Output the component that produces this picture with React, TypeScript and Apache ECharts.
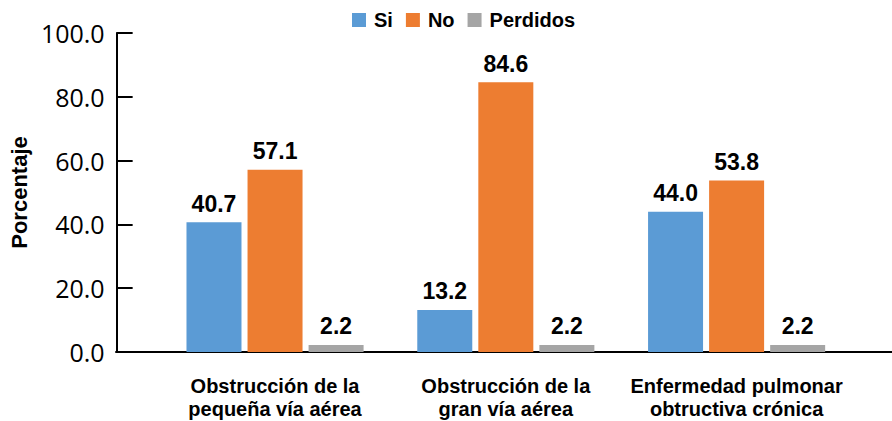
import React, { useEffect, useRef } from "react";
import * as echarts from "echarts";

// Categories (two-line axis labels)
const categories = [
  "Obstrucción de la\npequeña vía aérea",
  "Obstrucción de la\ngran vía aérea",
  "Enfermedad pulmonar\nobtructiva crónica",
];

// Percentages per answer
const siValues = [40.7, 13.2, 44.0];
const noValues = [57.1, 84.6, 53.8];
const perdidosValues = [2.2, 2.2, 2.2];

const seriesNames = ["Si", "No", "Perdidos"];
const seriesColors = ["#5B9BD5", "#ED7D31", "#A5A5A5"];

const yTicks = { min: 0, max: 100, interval: 20 };

const BOLD_FONT = "'Liberation Sans', Arial, sans-serif";
const TICK_FONT = "'Open Sans', 'Noto Sans', sans-serif";

export default function App() {
  const ref = useRef<HTMLDivElement>(null);

  useEffect(() => {
    if (!ref.current) return;
    const chart = echarts.init(ref.current, undefined, { renderer: "svg" });

    const values = [siValues, noValues, perdidosValues];

    const barSeries = values.map((data, i) => ({
      name: seriesNames[i],
      type: "bar" as const,
      xAxisIndex: 0,
      yAxisIndex: 0,
      data,
      barWidth: 55,
      barGap: "11%",
      itemStyle: { color: seriesColors[i] },
      label: {
        show: true,
        position: "top" as const,
        distance: 7,
        color: "#000",
        fontFamily: BOLD_FONT,
        fontWeight: "bold" as const,
        fontSize: 23,
        formatter: (p: any) => Number(p.value).toFixed(1),
      },
    }));

    chart.setOption({
      animation: false,
      backgroundColor: "#fff",
      legend: {
        data: seriesNames,
        left: 347,
        top: 5,
        icon: "rect",
        itemWidth: 14,
        itemHeight: 14,
        itemGap: 13,
        textStyle: {
          color: "#000",
          fontFamily: BOLD_FONT,
          fontWeight: "bold",
          fontSize: 20,
          padding: [0, 0, 0, 3],
        },
      },
      grid: [
        { left: 159, width: 693, top: 33, bottom: 69, containLabel: false },
        { left: 116, right: 0, top: 33, bottom: 69, containLabel: false },
      ],
      xAxis: [
        {
          type: "category",
          gridIndex: 0,
          data: categories,
          axisLine: { show: false },
          axisTick: { show: false },
          axisLabel: {
            interval: 0,
            margin: 22,
            color: "#000",
            fontFamily: BOLD_FONT,
            fontWeight: "bold",
            fontSize: 20,
            lineHeight: 23,
          },
        },
        {
          // baseline running the full width of the plot
          type: "value",
          gridIndex: 1,
          min: 0,
          max: 1,
          axisLine: { show: true, lineStyle: { color: "#000", width: 2 } },
          axisTick: { show: false },
          axisLabel: { show: false },
          splitLine: { show: false },
        },
      ],
      yAxis: [
        {
          type: "value",
          gridIndex: 0,
          min: yTicks.min,
          max: yTicks.max,
          interval: yTicks.interval,
          offset: 43,
          name: "Porcentaje",
          nameLocation: "middle",
          nameGap: 86,
          nameTextStyle: {
            color: "#000",
            fontFamily: BOLD_FONT,
            fontWeight: "bold",
            fontSize: 22,
          },
          axisLine: { show: true, lineStyle: { color: "#000", width: 2 } },
          axisTick: {
            show: true,
            inside: true,
            length: 16,
            lineStyle: { color: "#000", width: 2 },
          },
          axisLabel: {
            margin: 12,
            color: "#000",
            fontFamily: TICK_FONT,
            fontSize: 25,
            formatter: (v: number) => v.toFixed(1),
          },
          splitLine: { show: false },
        },
        {
          type: "value",
          gridIndex: 1,
          min: 0,
          max: 1,
          show: false,
        },
      ],
      series: barSeries,
    });

    return () => chart.dispose();
  }, []);

  return (
    <div
      ref={ref}
      style={{ position: "fixed", left: 0, top: 0, width: 892, height: 421 }}
    />
  );
}
